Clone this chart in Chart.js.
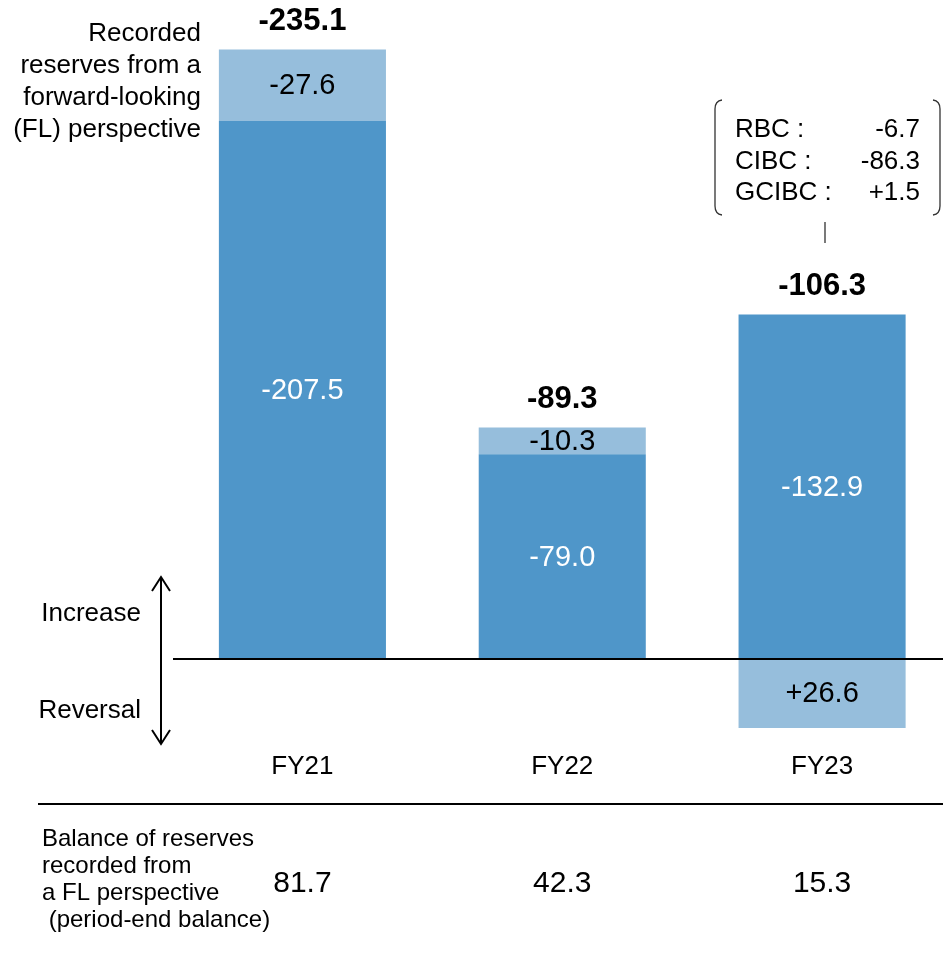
<body style="margin:0; overflow:hidden; background:#fff;">
  <script src="https://cdn.jsdelivr.net/npm/chart.js"></script>
  <div style="position:absolute; left:0; top:0; width:952px; height:953px;">
    <canvas id="chart" width="952" height="953"></canvas>
  </div>
  <script>
    const categories = ['FY21', 'FY22', 'FY23'];
    const mainValues = [-207.5, -79.0, -132.9];   // reserves (dark)
    const flValues = [-27.6, -10.3, 26.6];         // forward-looking part (light)
    const totals = [-235.1, -89.3, -106.3];
    const balances = [81.7, 42.3, 15.3];
    const breakdownNames = ['RBC :', 'CIBC :', 'GCIBC :'];
    const breakdownValues = ['-6.7', '-86.3', '+1.5'];

    const FONT = '"Liberation Sans", Arial, sans-serif';
    const fmt = v => (v > 0 ? '+' : '') + v.toFixed(1);

    const annotations = {
      id: 'annotations',
      afterDraw(chart) {
        const ctx = chart.ctx;
        const x = chart.scales.x, y = chart.scales.y;
        const zeroY = y.getPixelForValue(0);
        const main = chart.getDatasetMeta(0).data;
        const fl = chart.getDatasetMeta(1).data;
        ctx.save();
        ctx.textBaseline = 'middle';
        ctx.textAlign = 'center';

        // values inside bars
        ctx.font = `29px ${FONT}`;
        main.forEach((bar, i) => {
          ctx.fillStyle = '#ffffff';
          ctx.fillText(fmt(mainValues[i]), bar.x, (bar.y + bar.base) / 2 + 1);
        });
        fl.forEach((bar, i) => {
          ctx.fillStyle = '#000000';
          ctx.fillText(fmt(flValues[i]), bar.x, (bar.y + bar.base) / 2 + 1);
        });

        // totals above bars
        ctx.font = `bold 31px ${FONT}`;
        ctx.fillStyle = '#000';
        totals.forEach((t, i) => {
          const top = Math.min(main[i].y, fl[i].y, fl[i].base);
          ctx.fillText(t.toFixed(1), main[i].x, top - 28);
        });

        // zero line
        ctx.strokeStyle = '#000';
        ctx.lineWidth = 2;
        ctx.beginPath();
        ctx.moveTo(173, zeroY);
        ctx.lineTo(943, zeroY);
        ctx.stroke();

        // category labels
        ctx.font = `26px ${FONT}`;
        categories.forEach((c, i) => ctx.fillText(c, x.getPixelForValue(i), 767));

        // separator line
        ctx.beginPath();
        ctx.moveTo(38, 804);
        ctx.lineTo(943, 804);
        ctx.stroke();

        // balances
        ctx.font = `30px ${FONT}`;
        balances.forEach((b, i) => ctx.fillText(b.toFixed(1), x.getPixelForValue(i), 884));

        // left bottom text
        ctx.textAlign = 'left';
        ctx.font = `24px ${FONT}`;
        ['Balance of reserves', 'recorded from', 'a FL perspective', ' (period-end balance)']
          .forEach((t, i) => ctx.fillText(t, 42, 839 + i * 27));

        // left top text
        ctx.textAlign = 'right';
        ctx.font = `26px ${FONT}`;
        ['Recorded', 'reserves from a', 'forward-looking', '(FL) perspective']
          .forEach((t, i) => ctx.fillText(t, 201, 34 + i * 32));

        // increase / reversal
        ctx.fillText('Increase', 141, 614);
        ctx.fillText('Reversal', 141, 711);
        ctx.beginPath();
        ctx.moveTo(161, 577); ctx.lineTo(161, 744);
        ctx.moveTo(152, 591); ctx.lineTo(161, 577); ctx.lineTo(170, 591);
        ctx.moveTo(152, 730); ctx.lineTo(161, 744); ctx.lineTo(170, 730);
        ctx.stroke();

        // breakdown box
        ctx.lineWidth = 1.3;
        ctx.strokeStyle = '#333';
        ctx.beginPath();
        ctx.moveTo(722, 100); ctx.quadraticCurveTo(715, 101, 715, 109);
        ctx.lineTo(715, 206); ctx.quadraticCurveTo(715, 214, 722, 215);
        ctx.moveTo(933, 100); ctx.quadraticCurveTo(940, 101, 940, 109);
        ctx.lineTo(940, 206); ctx.quadraticCurveTo(940, 214, 933, 215);
        ctx.moveTo(825, 222); ctx.lineTo(825, 243);
        ctx.stroke();
        ctx.font = `26px ${FONT}`;
        breakdownNames.forEach((n, i) => {
          ctx.textAlign = 'left';
          ctx.fillText(n, 735, 130 + i * 31.5);
          ctx.textAlign = 'right';
          ctx.fillText(breakdownValues[i], 920, 130 + i * 31.5);
        });
        ctx.restore();
      }
    };

    new Chart(document.getElementById('chart'), {
      type: 'bar',
      data: {
        labels: categories,
        datasets: [
          { data: mainValues.map(v => -v), backgroundColor: '#4f96c9', borderWidth: 0 },
          { data: flValues.map(v => -v), backgroundColor: '#96bedc', borderWidth: 0 }
        ]
      },
      options: {
        responsive: false,
        animation: false,
        layout: { padding: { left: 172.5, right: 0, top: 10.75, bottom: 190.3 } },
        categoryPercentage: 1,
        barPercentage: 0.643,
        plugins: { legend: { display: false }, tooltip: { enabled: false } },
        scales: {
          x: { display: false, stacked: true },
          y: { display: false, stacked: true, min: -40, max: 250 }
        }
      },
      plugins: [annotations]
    });
  </script>
</body>
